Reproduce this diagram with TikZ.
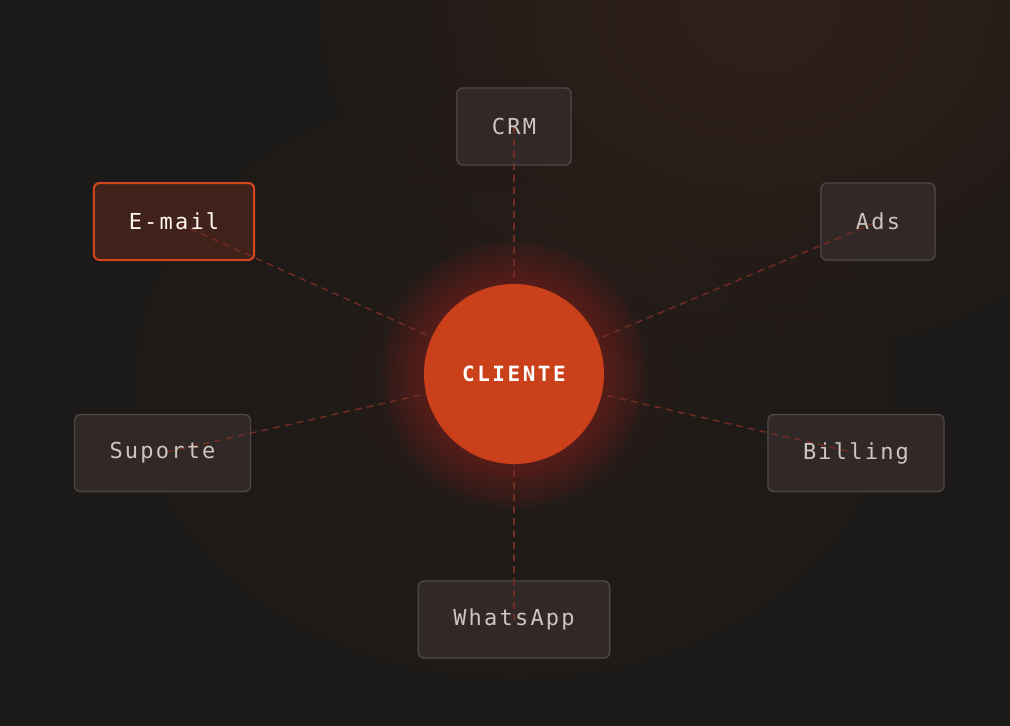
\documentclass[tikz,border=0pt]{standalone}
\usepackage{fontspec}
\setmonofont{DejaVu Sans Mono}[LetterSpace=10]
\newfontfamily\fontecliente{DejaVu Sans Mono}[LetterSpace=12]
\usetikzlibrary{fadings}

\definecolor{fundo}{HTML}{1C1A18}
\definecolor{brasa}{HTML}{32201A}
\definecolor{laranja}{HTML}{C9401A}
\definecolor{caixa}{HTML}{312927}
\definecolor{borda}{HTML}{4E4745}
\definecolor{texto}{HTML}{CDC5BE}
\definecolor{linha}{HTML}{722D22}
\definecolor{emailfundo}{HTML}{40221A}
\definecolor{emailborda}{HTML}{D2461E}

\pgfdeclarelayer{fundo}
\pgfdeclarelayer{linhas}
\pgfsetlayers{fundo,linhas,main}

\tikzfading[name=brilho, inner color=transparent!0, outer color=transparent!100]

\tikzset{
  canal/.style={draw=borda, line width=1.3pt, rounded corners=6pt,
    minimum height=77pt, inner xsep=35pt, text=texto,
    font=\ttfamily\fontsize{22}{22}\selectfont},
  destaque/.style={canal, draw=emailborda, line width=2pt, text=white!95!orange},
  ligacao/.style={draw=linha, line width=1.4pt, dash pattern=on 7pt off 5pt},
}

\begin{document}
\begin{tikzpicture}[x=1pt, y=-1pt]
    \useasboundingbox (0,0) rectangle (1010,726);

    % cliente
    \node[circle, fill=laranja, minimum size=180pt, inner sep=0pt, text=white,
      font=\fontecliente\bfseries\fontsize{21}{21}\selectfont] (cli) at (514,374) {CLIENTE};

    % canais
    \node[canal] (crm) at (514,126.5) {CRM};
    \node[destaque] (email) at (174,221.5) {E-mail};
    \node[canal] (ads) at (878,221.5) {Ads};
    \node[canal] (suporte) at (162.5,453) {Suporte};
    \node[canal] (billing) at (856,453) {Billing};
    \node[canal] (whats) at (514,619.5) {WhatsApp};

    \begin{pgfonlayer}{linhas}
        \foreach \n in {crm,email,ads,suporte,billing,whats}
            \draw[ligacao] (cli.center) -- (\n.center);
    \end{pgfonlayer}

    \begin{pgfonlayer}{fundo}
        \fill[fundo] (0,0) rectangle (1010,726);
        \fill[brasa, path fading=brilho] (760,10) ellipse (460pt and 360pt);
        \fill[brasa, opacity=0.45, path fading=brilho] (514,380) ellipse (420pt and 330pt);
        % halo
        \foreach \r in {91,93,...,135}
            \fill[laranja, opacity=0.02] (cli.center) circle (\r pt);
        % fonds des boites
        \foreach \n in {crm,ads,suporte,billing,whats}
            \fill[caixa, rounded corners=6pt] (\n.south west) rectangle (\n.north east);
        \fill[emailfundo, rounded corners=6pt] (email.south west) rectangle (email.north east);
    \end{pgfonlayer}
\end{tikzpicture}
\end{document}
